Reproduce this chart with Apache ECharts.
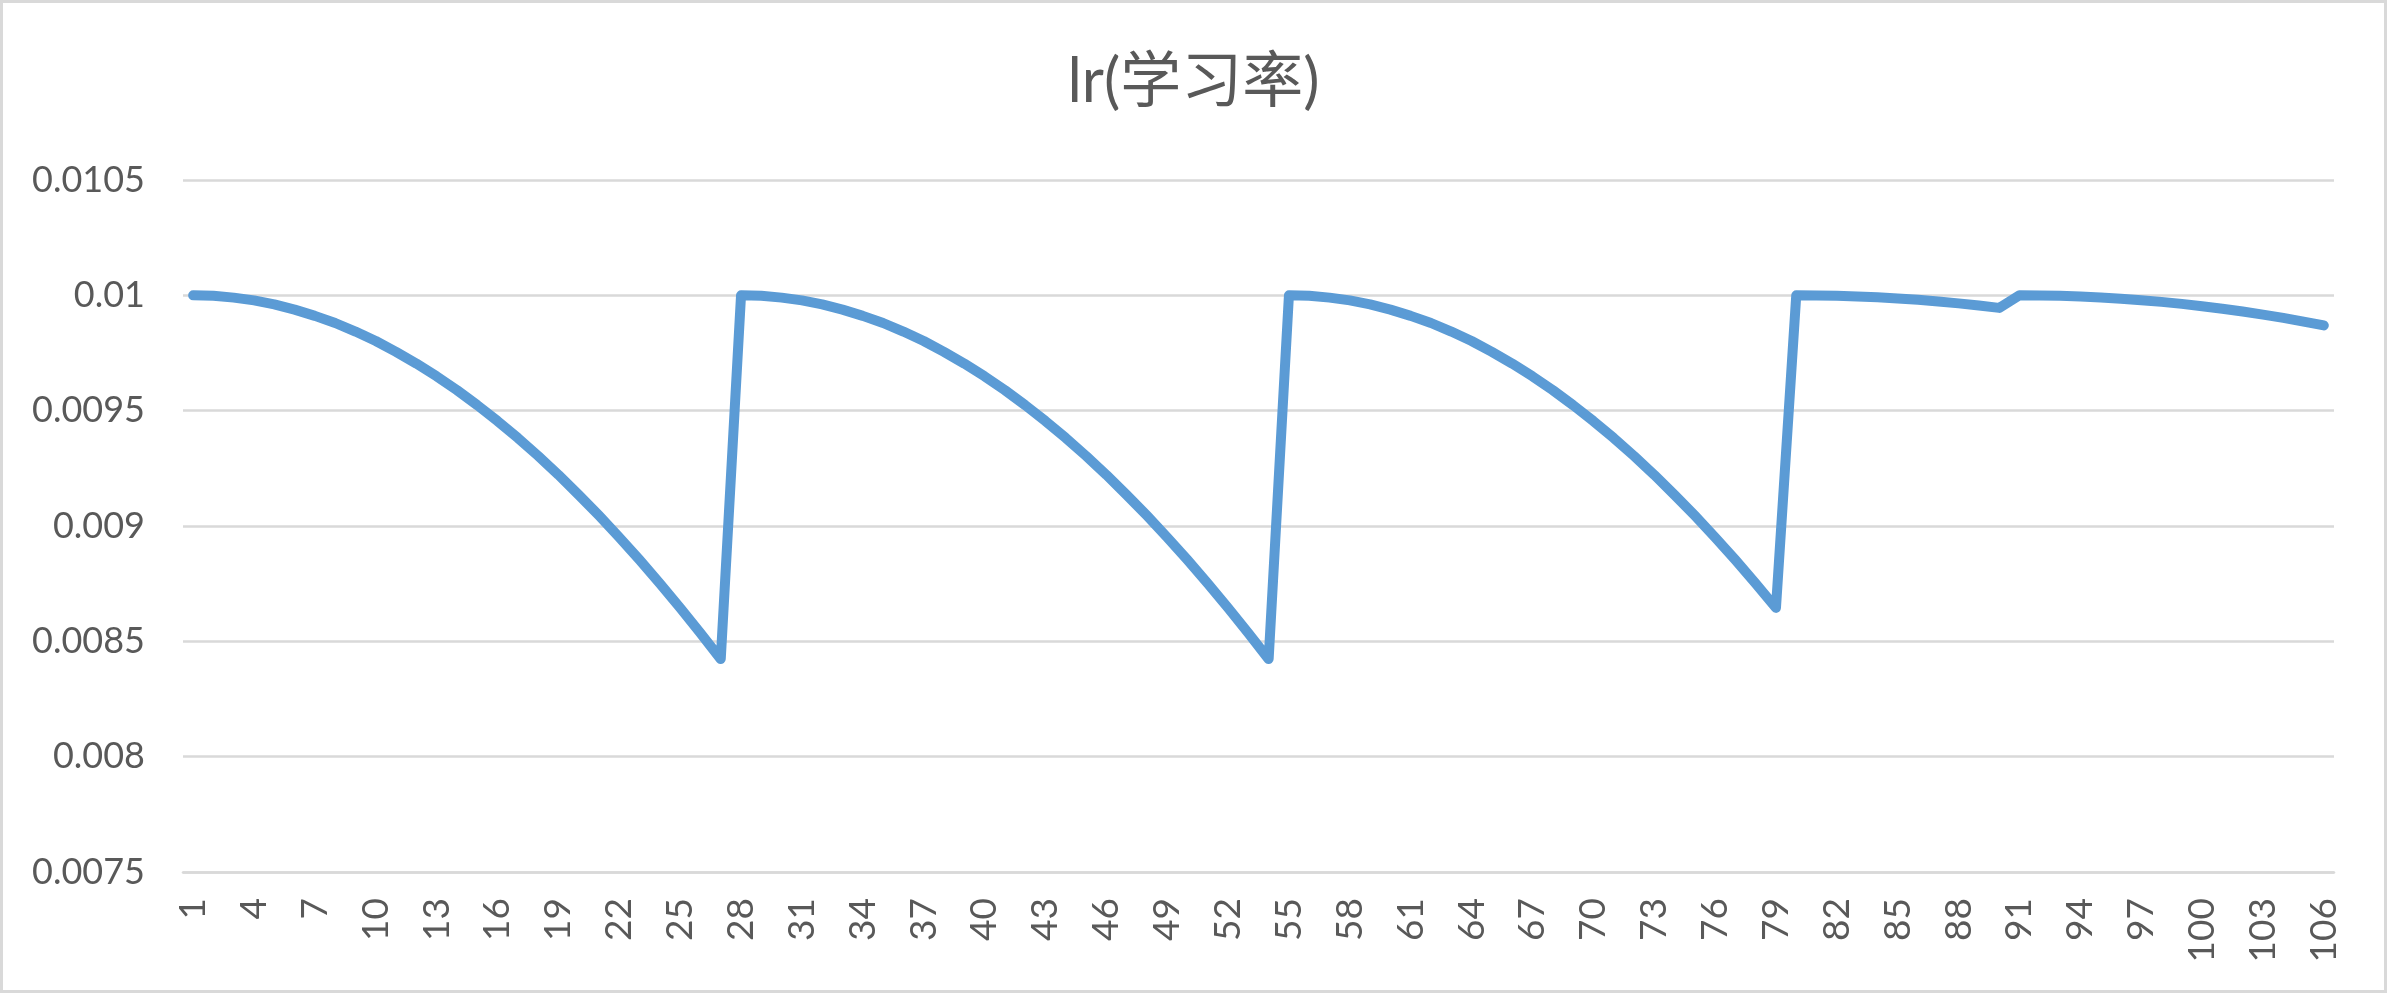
<!DOCTYPE html>
<html>
<head>
<meta charset="utf-8">
<script src="https://cdn.jsdelivr.net/npm/echarts@6/dist/echarts.min.js"></script>
<style>
  html, body { margin: 0; padding: 0; background: #ffffff; }
  #chart { width: 2387px; height: 993px; }
</style>
</head>
<body>
<div id="chart"></div>
<script>
// Category labels (x axis)
const categories = [
  1,2,3,4,5,6,7,8,9,10,11,12,13,14,15,16,17,18,19,20,
  21,22,23,24,25,26,27,28,29,30,31,32,33,34,35,36,37,38,39,40,
  41,42,43,44,45,46,47,48,49,50,51,52,53,54,55,56,57,58,59,60,
  61,62,63,64,65,66,67,68,69,70,71,72,73,74,75,76,77,78,79,80,
  81,82,83,84,85,86,87,88,89,90,91,92,93,94,95,96,97,98,99,100,
  101,102,103,104,105,106
];

// Learning-rate values, one array per restart cycle
const cycle1 = [0.01, 0.009998, 0.00999, 0.009978, 0.009961, 0.009938, 0.009911, 0.00988, 0.009843, 0.009802,
  0.009755, 0.009704, 0.009649, 0.009589, 0.009524, 0.009455, 0.009382, 0.009304, 0.009222, 0.009135,
  0.009045, 0.008951, 0.008853, 0.008751, 0.008645, 0.008536, 0.008423];
const cycle2 = [0.01, 0.009998, 0.00999, 0.009978, 0.009961, 0.009938, 0.009911, 0.00988, 0.009843, 0.009802,
  0.009755, 0.009704, 0.009649, 0.009589, 0.009524, 0.009455, 0.009382, 0.009304, 0.009222, 0.009135,
  0.009045, 0.008951, 0.008853, 0.008751, 0.008645, 0.008536, 0.008423];
const cycle3 = [0.01, 0.009998, 0.00999, 0.009978, 0.009961, 0.009938, 0.009911, 0.00988, 0.009843, 0.009802,
  0.009755, 0.009704, 0.009649, 0.009589, 0.009524, 0.009455, 0.009382, 0.009304, 0.009222, 0.009135,
  0.009045, 0.008951, 0.008853, 0.008751, 0.008645];
const cycle4 = [0.01, 0.0099995, 0.0099978, 0.0099951, 0.0099913, 0.0099864, 0.0099804, 0.0099733, 0.0099651,
  0.0099559, 0.0099455];
const cycle5 = [0.01, 0.0099994, 0.0099977, 0.0099948, 0.0099907, 0.0099855, 0.0099791, 0.0099716, 0.0099629,
  0.009953, 0.009942, 0.0099298, 0.0099165, 0.009902, 0.0098863, 0.0098695];

const lrValues = [].concat(cycle1, cycle2, cycle3, cycle4, cycle5);

// Y axis ticks
const yMin = 0.0075;
const yMax = 0.0105;
const yStep = 0.0005;

const titleText = 'lr(学习率)';

const textColor = '#595959';
const gridColor = '#D9D9D9';
const fontFam = "Lato, 'Noto Sans CJK SC', sans-serif";

const chart = echarts.init(document.getElementById('chart'), null, { renderer: 'canvas' });
chart.setOption({
  animation: false,
  backgroundColor: '#ffffff',
  title: {
    text: titleText,
    left: 'center',
    top: 47,
    textStyle: { color: textColor, fontSize: 61, fontWeight: 'normal', fontFamily: fontFam }
  },
  grid: { left: 183, right: 53, top: 180, bottom: 121, containLabel: false },
  xAxis: {
    type: 'category',
    data: categories,
    boundaryGap: true,
    axisLine: { show: true, lineStyle: { color: gridColor, width: 2.6 } },
    axisTick: { show: false },
    axisLabel: {
      interval: 2,
      rotate: 90,
      margin: 26,
      color: textColor,
      fontSize: 37,
      fontFamily: fontFam
    },
    splitLine: { show: false }
  },
  yAxis: {
    type: 'value',
    min: yMin,
    max: yMax,
    interval: yStep,
    axisLine: { show: false },
    axisTick: { show: false },
    axisLabel: {
      margin: 38,
      color: textColor,
      fontSize: 36,
      fontFamily: fontFam,
      formatter: function (v) { return String(parseFloat(v.toFixed(5))); }
    },
    splitLine: { show: true, lineStyle: { color: gridColor, width: 2.6 } }
  },
  series: [{
    type: 'line',
    data: lrValues,
    showSymbol: false,
    smooth: false,
    lineStyle: { color: '#5B9BD5', width: 10, cap: 'round', join: 'round' },
    itemStyle: { color: '#5B9BD5' }
  }],
  graphic: [{
    type: 'rect',
    silent: true,
    shape: { x: 1.5, y: 1.5, width: 2384, height: 990 },
    style: { fill: 'none', stroke: gridColor, lineWidth: 3 }
  }]
});
</script>
</body>
</html>
